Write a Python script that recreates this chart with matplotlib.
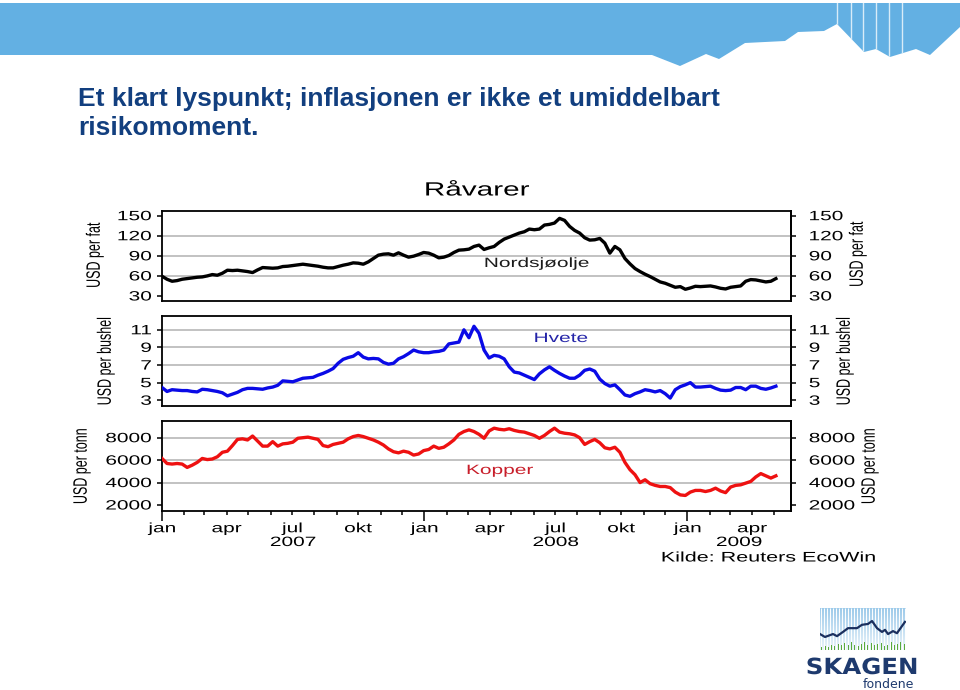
import numpy as np
import pandas as pd
import matplotlib
matplotlib.use("Agg")
import matplotlib.pyplot as plt
import matplotlib.dates as mdates
from matplotlib.patheffects import AbstractPathEffect
from matplotlib.transforms import Affine2D
from matplotlib.patches import Polygon
from matplotlib.lines import Line2D
from matplotlib.colors import LinearSegmentedColormap
from matplotlib.ticker import FixedLocator, FixedFormatter

plt.rcParams['font.family'] = ['Liberation Sans', 'DejaVu Sans']

# ---------------- data (weekly readings) ----------------
dates = pd.date_range('2007-01-01', periods=123, freq='7D')

oil = [59.5, 55, 52, 53, 55, 56, 57, 58, 58.5, 60,
       62, 61, 64, 68.5, 68, 68.5, 67.5, 66.5, 65, 69,
       72.5, 72, 71.5, 72, 74, 74.5, 75.5, 76.5, 77.5, 76.5,
       75.5, 74.5, 73, 72, 72, 74, 76, 77.5, 79.5, 79,
       77.5, 81, 86, 91, 92.5, 93, 91, 94.5, 91, 88,
       89.5, 92, 95, 94, 91, 87, 88, 90.5, 95, 98.5,
       99, 100, 104, 106, 99.5, 102, 104, 110, 115, 118,
       121, 124, 126, 130, 129, 130, 136, 137, 139, 146,
       143, 134, 128, 124, 117, 113.5, 114, 116, 109, 94,
       104, 99, 86, 78, 71, 66.5, 62.5, 59, 55, 51,
       49, 46, 43, 44, 40, 42, 44.5, 44, 44.5, 45,
       43.5, 41.5, 40.5, 43, 44, 45, 52, 54.5, 54, 52.5,
       51, 52, 56]

wheat = [4.45, 4.0, 4.2, 4.15, 4.1, 4.1, 4.0, 3.95, 4.25, 4.2,
         4.1, 4.0, 3.85, 3.5, 3.7, 3.9, 4.2, 4.35, 4.35, 4.3,
         4.25, 4.4, 4.5, 4.7, 5.2, 5.15, 5.1, 5.3, 5.5, 5.55,
         5.6, 5.85, 6.05, 6.3, 6.6, 7.2, 7.65, 7.85, 8.0, 8.4,
         7.9, 7.7, 7.75, 7.7, 7.3, 7.1, 7.2, 7.7, 7.95, 8.3,
         8.7, 8.5, 8.4, 8.4, 8.5, 8.55, 8.7, 9.4, 9.5, 9.6,
         11.0, 10.1, 11.4, 10.6, 8.7, 7.8, 8.1, 8.0, 7.7, 6.8,
         6.2, 6.1, 5.85, 5.6, 5.35, 6.0, 6.45, 6.8, 6.4, 6.05,
         5.75, 5.5, 5.5, 5.85, 6.4, 6.55, 6.3, 5.4, 4.9, 4.6,
         4.75, 4.2, 3.6, 3.45, 3.75, 3.95, 4.2, 4.1, 3.95, 4.1,
         3.75, 3.25, 4.2, 4.55, 4.75, 5.0, 4.5, 4.5, 4.55, 4.6,
         4.35, 4.15, 4.1, 4.15, 4.45, 4.45, 4.2, 4.6, 4.6, 4.35,
         4.25, 4.4, 4.6]

copper = [6150, 5700, 5650, 5700, 5650, 5350, 5550, 5800, 6150, 6050,
          6100, 6300, 6700, 6800, 7300, 7850, 7900, 7800, 8150, 7700,
          7250, 7250, 7650, 7250, 7450, 7500, 7600, 7950, 8000, 8050,
          7950, 7850, 7300, 7200, 7400, 7500, 7600, 7900, 8100, 8200,
          8100, 7950, 7800, 7600, 7350, 7000, 6750, 6650, 6800, 6700,
          6450, 6550, 6850, 6950, 7250, 7050, 7150, 7450, 7800, 8300,
          8550, 8700, 8550, 8300, 7950, 8600, 8850, 8750, 8700, 8800,
          8650, 8550, 8500, 8350, 8200, 7950, 8200, 8550, 8850, 8500,
          8400, 8350, 8250, 8000, 7400, 7650, 7850, 7550, 7100, 7000,
          7150, 6700, 5800, 5150, 4700, 4000, 4250, 3900, 3750, 3650,
          3650, 3550, 3150, 2900, 2850, 3150, 3300, 3300, 3200, 3300,
          3500, 3250, 3100, 3600, 3750, 3800, 3950, 4100, 4500, 4800,
          4600, 4400, 4600]

oil_ticks = [30, 60, 90, 120, 150]
oil_grid = [60, 90, 120]
wheat_ticks = [3, 5, 7, 9, 11]
wheat_grid = [5, 7, 9, 11]
copper_ticks = [2000, 4000, 6000, 8000]
copper_grid = [4000, 6000, 8000]
month_names = ['jan', 'feb', 'mar', 'apr', 'mai', 'jun',
               'jul', 'aug', 'sep', 'okt', 'nov', 'des']
labelled_months = [1, 4, 7, 10]
years = [2007, 2008, 2009]

title_lines = ['Et klart lyspunkt; inflasjonen er ikke et umiddelbart',
               'risikomoment.']
chart_title = 'Råvarer'
series_names = ['Nordsjøolje', 'Hvete', 'Kopper']
units = ['USD per fat', 'USD per bushel', 'USD per tonn']
source = 'Kilde: Reuters EcoWin'

# logo decoration values
logo_line_x = [0, .058, .151, .198, .267, .326, .43, .488, .558, .605,
               .663, .721, .756, .791, .849, .895, .988]
logo_line_y = [.38, .31, .38, .33, .43, .52, .52, .60, .62, .69,
               .52, .43, .48, .38, .45, .40, .67]
logo_bars = [.08, .10, .06, .12, .09, .14, .11, .16, .12, .18, .13, .10, .15,
             .19, .12, .16, .11, .14, .17, .10, .13, .18, .12, .15, .19, .14]


# ---------------- helpers ----------------
class HStretch(AbstractPathEffect):
    """Stretch rendered glyphs horizontally (the source chart is widened)."""
    def __init__(self, sx=1.55, anchor='center'):
        super().__init__()
        self.sx = sx
        self.anchor = anchor

    def draw_path(self, renderer, gc, tpath, affine, rgbFace=None):
        bb = tpath.get_extents(affine)
        if self.anchor == 'left':
            x0 = bb.x0
        elif self.anchor == 'right':
            x0 = bb.x1
        else:
            x0 = 0.5 * (bb.x0 + bb.x1)
        t = Affine2D().translate(-x0, 0).scale(self.sx, 1.0).translate(x0, 0)
        renderer.draw_path(gc, tpath, affine + t, rgbFace)


W, H = 960, 690
SX = 1.55


def fx(x):
    return x / W


def fy(y):
    return 1 - y / H


fig = plt.figure(figsize=(9.6, 6.9), dpi=100)
fig.patch.set_facecolor('white')

# ---------------- header band ----------------
band_pts = [(0, 3), (960, 3), (960, 27), (930, 55), (916, 49), (890, 57),
            (876, 49), (864, 52), (837, 24), (824, 31), (798, 32), (785, 41),
            (745, 43), (719, 59), (706, 54), (680, 66), (652, 55), (0, 55)]
band = Polygon([(fx(x), fy(y)) for x, y in band_pts], closed=True,
               transform=fig.transFigure, facecolor='#63B0E3',
               edgecolor='none', zorder=0)
fig.add_artist(band)
for sxp in [837, 851, 863, 876, 889, 902]:
    ln = Line2D([fx(sxp), fx(sxp)], [fy(0), fy(70)], transform=fig.transFigure,
                color='#D8ECF8', lw=1.0, zorder=1)
    ln.set_clip_path(band)
    fig.add_artist(ln)

# ---------------- slide title ----------------
fig.text(fx(78), fy(106), title_lines[0], fontsize=19, fontweight='bold',
         color='#123F7F', ha='left', va='baseline')
fig.text(fx(78), fy(135), title_lines[1], fontsize=19, fontweight='bold',
         color='#123F7F', ha='left', va='baseline')

# ---------------- chart panels ----------------
L, R = 162, 791
x = mdates.date2num(dates)
x0 = mdates.date2num(pd.Timestamp('2007-01-01'))
xlim = (x0, x0 + 875)

panels = [
    dict(top=211, bot=301, vals=oil, ticks=oil_ticks, grid=oil_grid,
         ylim=(22.5, 157), color='#000000', name=series_names[0],
         name_xy=(537, 264), name_color='#1A1A1A', unit=units[0],
         uL=(95, 255), uR=(858, 254)),
    dict(top=315.7, bot=406, vals=wheat, ticks=wheat_ticks, grid=wheat_grid,
         ylim=(2.35, 12.6), color='#0A0AE6', name=series_names[1],
         name_xy=(561, 339), name_color='#2424A8', unit=units[1],
         uL=(106, 361), uR=(845, 361)),
    dict(top=421, bot=511, vals=copper, ticks=copper_ticks, grid=copper_grid,
         ylim=(1464, 9490), color='#EE1111', name=series_names[2],
         name_xy=(500, 471), name_color='#C81E2A', unit=units[2],
         uL=(82, 466), uR=(870, 466)),
]

FS = 9.7
axes = []
for p in panels:
    ax = fig.add_axes([fx(L), fy(p['bot']), (R - L) / W, (p['bot'] - p['top']) / H])
    axes.append(ax)
    for g in p['grid']:
        ax.axhline(g, color='#BDBDBD', lw=1.3, zorder=1)
    ax.plot(x, p['vals'], color=p['color'], lw=2.4, zorder=3,
            solid_joinstyle='round')
    ax.set_xlim(*xlim)
    ax.set_ylim(*p['ylim'])
    for s in ax.spines.values():
        s.set_linewidth(1.3)
        s.set_color('black')
    ax.yaxis.set_major_locator(FixedLocator(p['ticks']))
    ax.yaxis.set_major_formatter(FixedFormatter([str(t) for t in p['ticks']]))
    ax.tick_params(axis='y', which='major', direction='out', length=3.5,
                   width=1.1, pad=4, labelsize=FS, colors='black')
    for lab in ax.yaxis.get_majorticklabels():
        lab.set_path_effects([HStretch(SX, 'right')])

    sec = ax.secondary_yaxis('right')
    sec.yaxis.set_major_locator(FixedLocator(p['ticks']))
    sec.yaxis.set_major_formatter(FixedFormatter([str(t) for t in p['ticks']]))
    sec.tick_params(axis='y', which='major', direction='out', length=3.5,
                    width=1.1, pad=9.5, labelsize=FS, colors='black')
    sec.spines['right'].set_linewidth(1.3)
    for tk in sec.yaxis.get_major_ticks():
        tk.label1.set_path_effects([HStretch(SX, 'right')])
        tk.label2.set_path_effects([HStretch(SX, 'left')])

    fig.text(fx(p['name_xy'][0]), fy(p['name_xy'][1]), p['name'], fontsize=FS,
             color=p['name_color'], ha='center', va='center',
             path_effects=[HStretch(SX, 'center')])
    for (ux, uy) in (p['uL'], p['uR']):
        fig.text(fx(ux), fy(uy), p['unit'], fontsize=9, rotation=90,
                 color='black', ha='center', va='center',
                 path_effects=[HStretch(SX, 'center')])

# x axis only on bottom panel
for ax in axes[:2]:
    ax.tick_params(axis='x', which='both', bottom=False, labelbottom=False)

ax3 = axes[2]
major_dates = [pd.Timestamp(f'{y}-01-01') for y in years]
minor_dates = [d for d in pd.date_range('2007-02-01', '2009-05-01', freq='MS')
               if d.month != 1]
ax3.xaxis.set_major_locator(FixedLocator(mdates.date2num(major_dates)))
ax3.xaxis.set_major_formatter(FixedFormatter([month_names[0]] * len(major_dates)))
ax3.xaxis.set_minor_locator(FixedLocator(mdates.date2num(minor_dates)))
ax3.xaxis.set_minor_formatter(FixedFormatter(
    [month_names[d.month - 1] if d.month in labelled_months else ''
     for d in minor_dates]))
ax3.tick_params(axis='x', which='major', direction='out', length=7, width=1.1,
                pad=1.8, labelsize=FS, colors='black')
ax3.tick_params(axis='x', which='minor', direction='out', length=3, width=1.1,
                pad=5.8, labelsize=FS, colors='black')
for lab in ax3.xaxis.get_majorticklabels() + ax3.xaxis.get_minorticklabels():
    lab.set_path_effects([HStretch(SX, 'center')])

# year labels centred under visible part of each year
for i, y in enumerate(years):
    a = mdates.date2num(pd.Timestamp(f'{y}-01-01'))
    b = mdates.date2num(pd.Timestamp(f'{y + 1}-01-01')) if i < len(years) - 1 else xlim[1]
    b = min(b, xlim[1])
    ax3.annotate(str(y), xy=((a + b) / 2, 0), xycoords=ax3.get_xaxis_transform(),
                 xytext=(0, -32 * 0.72), textcoords='offset points',
                 ha='center', va='center', fontsize=FS, color='black',
                 path_effects=[HStretch(SX, 'center')], annotation_clip=False)

fig.text(fx(477), fy(191), chart_title, fontsize=13.8, color='black',
         ha='center', va='center', path_effects=[HStretch(SX, 'center')])
fig.text(fx(876), fy(557.5), source, fontsize=10, color='black',
         ha='right', va='center', path_effects=[HStretch(SX, 'right')])

# ---------------- logo ----------------
axl = fig.add_axes([fx(820), fy(650), 86 / W, 42 / H])
axl.set_xlim(0, 1)
axl.set_ylim(0, 1)
axl.axis('off')
cm = LinearSegmentedColormap.from_list('lg', ['#EAF3FA', '#9CCAEA'])
grad = np.linspace(0, 1, 64).reshape(-1, 1)
axl.imshow(grad, extent=(0, 1, 0, 1), origin='lower', cmap=cm, aspect='auto', zorder=0)
axl.vlines(np.linspace(0.01, 0.99, 29), 0, 1, colors='white', lw=0.7, zorder=1)
bx = np.linspace(0.02, 0.98, len(logo_bars))
axl.bar(bx, logo_bars, width=0.012, bottom=0.0, color='#5AAA3C', zorder=2)
axl.plot(logo_line_x, logo_line_y, color='#1B2F5E', lw=1.6, zorder=3)

fig.text(fx(862), fy(674), 'SKAGEN', fontsize=16, fontweight='bold',
         family=['DejaVu Sans'], color='#1E3A6E', ha='center', va='baseline',
         path_effects=[HStretch(1.1, 'center')])
fig.text(fx(914), fy(688), 'fondene', fontsize=9, family=['DejaVu Sans'],
         color='#1E3A6E', ha='right', va='baseline')

fig.savefig('out.png', dpi=100, facecolor='white')
